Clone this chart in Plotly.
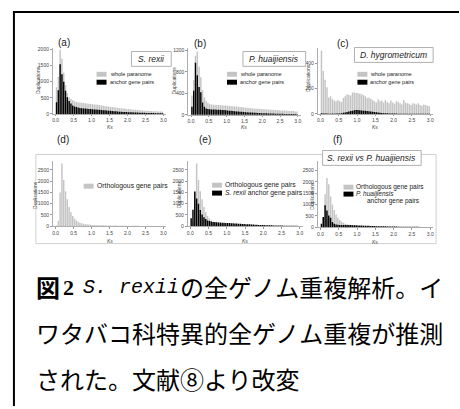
import plotly.graph_objects as go

W, H = 460, 409

# ---------------- data ----------------
KS_BIN = 0.05
N_BINS = 60
ks_centers = [round(KS_BIN * (i + 0.5), 3) for i in range(N_BINS)]

x_tick_vals = [0, 0.5, 1.0, 1.5, 2.0, 2.5, 3.0]
x_tick_text = ["0.0", "0.5", "1.0", "1.5", "2.0", "2.5", "3.0"]

# (a) S. rexii
srexii_whole = [830, 1150, 1990, 1720, 1280, 900, 650, 520, 460, 420, 390, 370, 360, 350, 345,
                335, 330, 320, 315, 310, 300, 295, 290, 280, 270, 265, 255, 245, 240, 230,
                220, 210, 205, 200, 190, 185, 175, 170, 165, 155, 150, 145, 140, 130, 125,
                120, 115, 110, 105, 100, 100, 95, 90, 90, 85, 80, 80, 75, 75, 70]
srexii_anchor = [360, 730, 1540, 1230, 1000, 720, 520, 400, 320, 260, 230, 210, 195, 185, 175,
                 170, 165, 160, 155, 150, 145, 140, 135, 130, 125, 120, 115, 110, 105, 100,
                 95, 90, 85, 80, 75, 70, 65, 62, 60, 56, 52, 50, 48, 45, 42,
                 40, 38, 36, 34, 32, 30, 28, 26, 25, 24, 22, 20, 20, 18, 16]
# (b) P. huaijiensis
phuai_whole = [360, 650, 1100, 1180, 900, 700, 460, 330, 260, 220, 200, 195, 190, 190, 185,
               185, 180, 180, 175, 175, 170, 165, 165, 160, 155, 155, 150, 145, 145, 140,
               135, 135, 130, 125, 125, 120, 115, 115, 110, 110, 105, 105, 100, 100, 95,
               95, 90, 90, 85, 85, 80, 80, 80, 75, 75, 70, 70, 70, 65, 65]
phuai_anchor = [150, 450, 970, 740, 520, 420, 230, 150, 120, 110, 105, 100, 100, 100, 95,
                95, 95, 90, 90, 85, 80, 78, 75, 70, 68, 65, 62, 60, 56, 54,
                50, 48, 46, 44, 42, 40, 38, 36, 34, 32, 30, 29, 28, 27, 26,
                25, 24, 23, 22, 21, 20, 19, 18, 18, 17, 16, 15, 15, 14, 13]
# (c) D. hygrometricum
dhygro_whole = [500, 340, 270, 210, 130, 140, 115, 105, 100, 110, 100, 95, 125, 140, 155,
                150, 145, 170, 170, 165, 165, 160, 155, 150, 140, 125, 130, 120, 110, 100,
                90, 115, 100, 105, 90, 110, 95, 85, 105, 90, 80, 100, 95, 85, 75,
                110, 90, 85, 80, 70, 85, 80, 75, 85, 70, 65, 75, 70, 65, 60]
dhygro_anchor = [5, 4, 3, 3, 2, 2, 3, 2, 3, 3, 4, 5, 8, 10, 14,
                 18, 22, 25, 28, 30, 30, 28, 27, 25, 24, 22, 20, 18, 16, 14,
                 12, 10, 8, 7, 6, 5, 5, 4, 4, 3, 3, 3, 2, 2, 2,
                 2, 2, 2, 1, 1, 1, 1, 1, 1, 1, 1, 1, 1, 1, 1]
# (d)/(e) orthologous gene pairs
ortho_de = [40, 250, 1500, 2780, 2050, 1550, 1200, 850, 620, 450, 340, 260, 200, 160, 130,
            110, 95, 85, 75, 70, 62, 58, 54, 50, 47, 44, 42, 40, 38, 36,
            34, 32, 30, 29, 28, 27, 26, 25, 24, 23, 22, 21, 20, 20, 19,
            18, 18, 17, 16, 16, 15, 15, 14, 14, 13, 13, 12, 12, 11, 11]
# (f) orthologous gene pairs
ortho_f = [60, 420, 1450, 2170, 1900, 1350, 1000, 760, 560, 420, 320, 250, 200, 160, 130,
           110, 95, 85, 75, 68, 62, 56, 52, 48, 45, 42, 40, 38, 36, 34,
           32, 30, 28, 27, 26, 25, 24, 23, 22, 21, 20, 19, 19, 18, 17,
           17, 16, 16, 15, 15, 14, 14, 13, 13, 12, 12, 12, 11, 11, 10]

panel_labels = ["(a)", "(b)", "(c)", "(d)", "(e)", "(f)"]
panel_titles = ["S. rexii", "P. huaijiensis", "D. hygrometricum", None, None,
                "S. rexii vs P. huaijiensis"]
y_ticks_a = [0, 500, 1000, 1500, 2000]
y_ticks_b = [0, 400, 800, 1200]
y_ticks_c = [0, 200, 400]
y_ticks_def = [0, 500, 1000, 1500, 2000, 2500]

GRAY = "#c4c4c4"
BLACK = "#000000"
FONT = "Liberation Sans"

# ---------------- layout helpers ----------------
def px(x):
    return x / W

def py(y):
    return 1 - y / H

panels = [
    dict(xd=(52, 166), yd=(47, 114), xr=[-0.08, 3.08], yr=[0, 2060], yt=y_ticks_a,
         g=srexii_whole, b=srexii_anchor),
    dict(xd=(188, 301), yd=(47, 115), xr=[-0.08, 3.08], yr=[0, 1255], yt=y_ticks_b,
         g=phuai_whole, b=phuai_anchor),
    dict(xd=(318, 434), yd=(47, 114), xr=[-0.08, 3.08], yr=[0, 525], yt=y_ticks_c,
         g=dhygro_whole, b=dhygro_anchor),
    dict(xd=(52, 166), yd=(162, 227.5), xr=[-0.08, 3.08], yr=[0, 2873], yt=y_ticks_def,
         g=ortho_de, b=None),
    dict(xd=(187.5, 303), yd=(162, 227.5), xr=[-0.07, 3.08], yr=[0, 2873], yt=y_ticks_def,
         g=ortho_de, b=srexii_anchor),
    dict(xd=(318, 434), yd=(162, 228.5), xr=[-0.08, 3.08], yr=[0, 2900], yt=y_ticks_def,
         g=ortho_f, b=phuai_anchor),
]

fig = go.Figure()
layout = dict(
    width=W, height=H, margin=dict(l=0, r=0, t=0, b=0),
    paper_bgcolor="white", plot_bgcolor="rgba(0,0,0,0)",
    barmode="overlay", bargap=0.2, showlegend=False,
    font=dict(family=FONT, color="#333"),
)

for i, p in enumerate(panels):
    n = i + 1
    xa = "x" if n == 1 else f"x{n}"
    ya = "y" if n == 1 else f"y{n}"
    fig.add_trace(go.Bar(x=ks_centers, y=p["g"], marker=dict(color=GRAY, line_width=0),
                         width=KS_BIN * 0.8, xaxis=xa, yaxis=ya, hoverinfo="skip"))
    if p["b"] is not None:
        fig.add_trace(go.Bar(x=ks_centers, y=p["b"], marker=dict(color=BLACK, line_width=0),
                             width=KS_BIN * 0.8, xaxis=xa, yaxis=ya, hoverinfo="skip"))
    layout["xaxis" if n == 1 else f"xaxis{n}"] = dict(
        domain=[px(p["xd"][0]), px(p["xd"][1])], range=p["xr"], anchor=ya,
        tickvals=x_tick_vals, ticktext=x_tick_text, ticks="outside", ticklen=1.5,
        tickcolor="#999", showline=True, linecolor="#999", linewidth=0.8,
        showgrid=False, zeroline=False, tickfont=dict(size=5, color="#444", family=FONT),
    )
    layout["yaxis" if n == 1 else f"yaxis{n}"] = dict(
        domain=[py(p["yd"][1]), py(p["yd"][0])], range=p["yr"], anchor=xa,
        tickvals=p["yt"], ticks="outside", ticklen=2, tickcolor="#999",
        showline=True, linecolor="#999", linewidth=0.8, showgrid=False, zeroline=False,
        tickfont=dict(size=5, color="#444", family=FONT),
    )

fig.update_layout(**layout)

ann = []
shapes = []

def text_at(text, x, y, size, color="#222", family=FONT, xanchor="center", angle=0):
    ann.append(dict(text=text, x=px(x), y=py(y), xref="paper", yref="paper",
                    xanchor=xanchor, yanchor="middle", showarrow=False, textangle=angle,
                    borderpad=0, font=dict(size=size, color=color, family=family)))

# outer frame (top + left)
shapes.append(dict(type="line", xref="paper", yref="paper", x0=px(12), x1=px(460),
                   y0=py(11), y1=py(11), line=dict(color="black", width=2)))
shapes.append(dict(type="line", xref="paper", yref="paper", x0=px(13), x1=px(13),
                   y0=py(10), y1=py(409), line=dict(color="black", width=2)))
# bottom row light frame
shapes.append(dict(type="rect", xref="paper", yref="paper", x0=px(35), x1=px(437),
                   y0=py(245), y1=py(155), line=dict(color="#d0d0d0", width=1)))

# panel labels
label_pos = [(63, 42), (200, 43), (343, 43), (62, 140), (205, 140), (338, 140)]
for lab, (lx, ly) in zip(panel_labels, label_pos):
    text_at(lab, lx, ly, 10)

# title boxes
title_boxes = [(131, 171, 51, 66), (243, 306, 51, 66), (355, 434, 47, 62), None, None,
               (323, 422, 151, 166)]
for t, box in zip(panel_titles, title_boxes):
    if t is None:
        continue
    x0, x1, y0, y1 = box
    shapes.append(dict(type="rect", xref="paper", yref="paper", x0=px(x0), x1=px(x1),
                       y0=py(y1), y1=py(y0), line=dict(color="#b0b0b0", width=1),
                       fillcolor="white", layer="above"))
    text_at(f"<i>{t}</i>", (x0 + x1) / 2, (y0 + y1) / 2, 8.5)

# axis titles
ytitle_pos = [(37, 80), (174, 80), (309, 78), (34, 196), (179, 195), (312, 197)]
for (tx, ty) in ytitle_pos:
    text_at("Duplications", tx, ty, 5, color="#444", angle=-90)
xtitle_pos = [(109, 127), (244, 127), (376, 127), (109, 242), (245, 242), (376, 243)]
for (tx, ty) in xtitle_pos:
    text_at("<i>Ks</i>", tx, ty, 5, color="#444")

# legends (swatch + label)
def legend_item(sx, sy, color, text, size=5.5):
    shapes.append(dict(type="rect", xref="paper", yref="paper", x0=px(sx), x1=px(sx + 10),
                       y0=py(sy + 2.5), y1=py(sy - 2.5), line=dict(width=0), fillcolor=color))
    text_at(text, sx + 12, sy, size, xanchor="left")

legend_item(96, 74, GRAY, "whole paranome")
legend_item(96, 82, BLACK, "anchor gene pairs")
legend_item(227, 74, GRAY, "whole paranome")
legend_item(227, 82, BLACK, "anchor gene pairs")
legend_item(358, 74, GRAY, "whole paranome")
legend_item(358, 82, BLACK, "anchor gene pairs")
legend_item(83, 187, GRAY, "Orthologous gene pairs", 6.8)
legend_item(212, 186, GRAY, "Orthologous gene pairs", 6.8)
legend_item(212, 194, BLACK, "<i>S. rexii</i> anchor gene pairs", 6.8)
legend_item(344, 188, GRAY, "Orthologous gene pairs", 6.5)
legend_item(344, 195, BLACK, "<i>P. huaijiensis</i>", 6.5)
text_at("anchor gene pairs", 367, 202, 6.5, xanchor="left")

# caption
CJK = "Noto Sans CJK JP"
text_at("<b>図</b>", 34, 288, 24, color="black", family=CJK, xanchor="left")
text_at("<b>2</b>", 61, 289, 22, color="black", family="Liberation Serif", xanchor="left")
text_at("<i>S. rexii</i>", 81, 289, 20, color="black", family="Liberation Mono", xanchor="left")
text_at("の全ゲノム重複解析。イ", 179, 288, 24, color="black", family=CJK, xanchor="left")
text_at("ワタバコ科特異的全ゲノム重複が推測", 34, 335, 24, color="black", family=CJK, xanchor="left")
text_at("された。文献⑧より改変", 34, 381, 24, color="black", family=CJK, xanchor="left")

fig.update_layout(annotations=ann, shapes=shapes)
fig.write_html("out.html", config={"displayModeBar": False, "staticPlot": True},
               post_script="document.body.style.margin='0';document.body.style.overflow='hidden';")
